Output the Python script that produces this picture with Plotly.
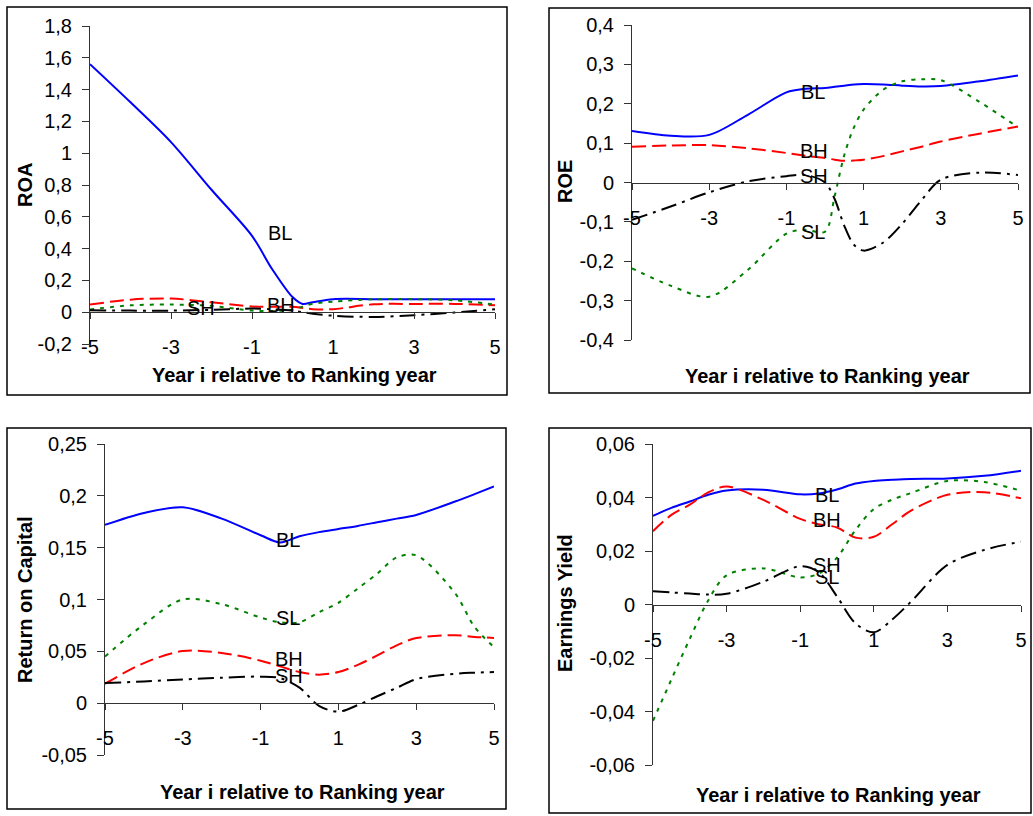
import plotly.graph_objects as go

# ---------------- data ----------------
SERIES = ["BL", "BH", "SL", "SH"]
X_TICKS = [-5, -3, -1, 1, 3, 5]
X_TICK_TEXT = ["-5", "-3", "-1", "1", "3", "5"]

# Panel 1 : ROA
ROA_X = [-5, -4, -3, -2, -1, -0.5, 0, 0.25, 0.5, 1, 2, 3, 4, 5]
ROA_BL = [1.56, 1.32, 1.07, 0.77, 0.48, 0.27, 0.095, 0.052, 0.063, 0.082, 0.082, 0.082, 0.082, 0.082]
ROA_BH = [0.048, 0.079, 0.086, 0.062, 0.036, 0.034, 0.034, 0.027, 0.019, 0.019, 0.05, 0.052, 0.052, 0.044]
ROA_SL = [0.017, 0.043, 0.048, 0.04, 0.01, 0.008, 0.015, 0.035, 0.053, 0.066, 0.081, 0.082, 0.075, 0.048]
ROA_SH = [0.012, 0.01, 0.01, 0.015, 0.023, 0.018, 0.01, 0.0, -0.01, -0.022, -0.03, -0.019, -0.002, 0.019]
ROA_TICKS = [-0.2, 0, 0.2, 0.4, 0.6, 0.8, 1, 1.2, 1.4, 1.6, 1.8]
ROA_TICK_TEXT = ["-0,2", "0", "0,2", "0,4", "0,6", "0,8", "1", "1,2", "1,4", "1,6", "1,8"]
ROA_LABELS = {"BL": (-0.31, 0.50), "BH": (-0.28, 0.044), "SH": (-2.26, 0.028)}

# Panel 2 : ROE
ROE_X = [-5, -4, -3, -2, -1, -0.5, 0, 0.25, 0.5, 0.75, 1, 1.5, 2, 2.5, 3, 4, 5]
ROE_BL = [0.131, 0.119, 0.121, 0.172, 0.229, 0.238, 0.240, 0.243, 0.246, 0.249, 0.250, 0.249, 0.246, 0.244, 0.245, 0.257, 0.272]
ROE_BH = [0.091, 0.094, 0.095, 0.087, 0.075, 0.068, 0.062, 0.058, 0.055, 0.056, 0.058, 0.067, 0.079, 0.091, 0.104, 0.124, 0.142]
ROE_SL = [-0.218, -0.262, -0.29, -0.222, -0.13, -0.12, -0.125, -0.035, 0.07, 0.14, 0.185, 0.235, 0.257, 0.262, 0.26, 0.205, 0.14]
ROE_SH = [-0.095, -0.061, -0.025, 0.003, 0.016, 0.019, 0.0, -0.042, -0.11, -0.158, -0.173, -0.153, -0.105, -0.045, 0.007, 0.025, 0.019]
ROE_TICKS = [-0.4, -0.3, -0.2, -0.1, 0, 0.1, 0.2, 0.3, 0.4]
ROE_TICK_TEXT = ["-0,4", "-0,3", "-0,2", "-0,1", "0", "0,1", "0,2", "0,3", "0,4"]
ROE_LABELS = {"BL": (-0.30, 0.229), "BH": (-0.28, 0.079), "SH": (-0.28, 0.017), "SL": (-0.30, -0.126)}

# Panel 3 : Return on Capital
ROC_X = [-5, -4, -3, -2, -1, -0.5, 0, 0.5, 1, 1.5, 2, 2.5, 3, 4, 4.5, 5]
ROC_BL = [0.172, 0.1835, 0.189, 0.178, 0.162, 0.155, 0.161, 0.165, 0.168, 0.171, 0.1745, 0.178, 0.1816, 0.1945, 0.2016, 0.209]
ROC_SL = [0.045, 0.076, 0.100, 0.0955, 0.0826, 0.078, 0.078, 0.0877, 0.0968, 0.1106, 0.125, 0.1406, 0.1426, 0.106, 0.0735, 0.054]
ROC_BH = [0.0187, 0.0387, 0.0503, 0.0484, 0.041, 0.0355, 0.030, 0.0275, 0.030, 0.037, 0.046, 0.0558, 0.0628, 0.0655, 0.0639, 0.0629]
ROC_SH = [0.0194, 0.021, 0.0229, 0.0245, 0.0256, 0.0242, 0.0150, -0.0025, -0.0082, -0.0018, 0.0067, 0.0148, 0.0232, 0.0284, 0.0294, 0.030]
ROC_TICKS = [-0.05, 0, 0.05, 0.1, 0.15, 0.2, 0.25]
ROC_TICK_TEXT = ["-0,05", "0", "0,05", "0,1", "0,15", "0,2", "0,25"]
ROC_LABELS = {"BL": (-0.30, 0.157), "SL": (-0.30, 0.0826), "BH": (-0.28, 0.0423), "SH": (-0.28, 0.0258)}

# Panel 4 : Earnings Yield
EY_X = [-5, -4.5, -4, -3.5, -3, -2, -1, -0.5, 0, 0.5, 1, 1.5, 2, 3, 4, 5]
EY_BL = [0.0331, 0.0361, 0.0385, 0.0410, 0.0426, 0.0429, 0.0412, 0.0415, 0.0430, 0.0452, 0.0462, 0.0466, 0.0469, 0.0471, 0.0481, 0.050]
EY_BH = [0.0274, 0.0335, 0.0373, 0.0419, 0.0441, 0.0391, 0.0320, 0.0300, 0.0288, 0.0250, 0.0253, 0.0300, 0.0350, 0.0410, 0.0420, 0.0397]
EY_SL = [-0.0435, -0.028, -0.0128, 0.0015, 0.0109, 0.0135, 0.0101, 0.0115, 0.0175, 0.0278, 0.0357, 0.0392, 0.0416, 0.0462, 0.0458, 0.0425]
EY_SH = [0.005, 0.0045, 0.0041, 0.0037, 0.004, 0.0085, 0.0143, 0.0121, 0.003, -0.007, -0.0104, -0.0056, 0.0009, 0.0148, 0.0204, 0.0235]
EY_TICKS = [-0.06, -0.04, -0.02, 0, 0.02, 0.04, 0.06]
EY_TICK_TEXT = ["-0,06", "-0,04", "-0,02", "0", "0,02", "0,04", "0,06"]
EY_LABELS = {"BL": (-0.28, 0.0409), "BH": (-0.27, 0.0315), "SH": (-0.27, 0.0148), "SL": (-0.28, 0.0102)}

X_TITLE = "Year i relative to Ranking year"

# ---------------- styling ----------------
W, H = 1033, 816
FONT = "Liberation Sans, Arial, sans-serif"
STYLE = {
    "BL": dict(color="#0000FF", dash="solid"),
    "BH": dict(color="#FF0000", dash="14px,6px"),
    "SL": dict(color="#008000", dash="4px,6px"),
    "SH": dict(color="#000000", dash="16px,6px,3px,6px"),
}

def px_dom_x(a, b):
    return [a / W, b / W]

def px_dom_y(top, bottom):
    return [(H - bottom) / H, (H - top) / H]

panels = [
    dict(x=ROA_X, ys={"BL": ROA_BL, "BH": ROA_BH, "SL": ROA_SL, "SH": ROA_SH},
         yr=[-0.2, 1.8], ticks=ROA_TICKS, ticktext=ROA_TICK_TEXT, labels=ROA_LABELS,
         xd=px_dom_x(90, 495), yd=px_dom_y(26, 344), ytitle="ROA",
         ytpos=(25, 185), xtpos=(294, 375), box=(7, 7, 507, 395)),
    dict(x=ROE_X, ys={"BL": ROE_BL, "BH": ROE_BH, "SL": ROE_SL, "SH": ROE_SH},
         yr=[-0.4, 0.4], ticks=ROE_TICKS, ticktext=ROE_TICK_TEXT, labels=ROE_LABELS,
         xd=px_dom_x(632, 1018), yd=px_dom_y(25, 340), ytitle="ROE",
         ytpos=(565, 182), xtpos=(827, 376), box=(549, 8, 1030, 393)),
    dict(x=ROC_X, ys={"BL": ROC_BL, "BH": ROC_BH, "SL": ROC_SL, "SH": ROC_SH},
         yr=[-0.05, 0.25], ticks=ROC_TICKS, ticktext=ROC_TICK_TEXT, labels=ROC_LABELS,
         xd=px_dom_x(105, 494), yd=px_dom_y(444, 755), ytitle="Return on Capital",
         ytpos=(25, 600), xtpos=(302, 792), box=(7, 428, 506, 809)),
    dict(x=EY_X, ys={"BL": EY_BL, "BH": EY_BH, "SL": EY_SL, "SH": EY_SH},
         yr=[-0.06, 0.06], ticks=EY_TICKS, ticktext=EY_TICK_TEXT, labels=EY_LABELS,
         xd=px_dom_x(653, 1021), yd=px_dom_y(444, 765), ytitle="Earnings Yield",
         ytpos=(565, 603), xtpos=(838, 795), box=(549, 428, 1031, 813)),
]

fig = go.Figure()
annotations = []
shapes = []
layout = {}

for i, p in enumerate(panels, start=1):
    sfx = "" if i == 1 else str(i)
    xa, ya = "x" + sfx, "y" + sfx
    for s in SERIES:
        fig.add_trace(go.Scatter(
            x=p["x"], y=p["ys"][s], mode="lines", name=s, showlegend=False,
            line=dict(color=STYLE[s]["color"], dash=STYLE[s]["dash"], width=2,
                      shape="spline", smoothing=0.9),
            xaxis=xa, yaxis=ya, hoverinfo="skip"))
    y0, y1 = p["yr"]
    d0, d1 = p["yd"]
    zero_pos = d0 + (0 - y0) / (y1 - y0) * (d1 - d0)
    layout["xaxis" + sfx] = dict(
        domain=p["xd"], range=[-5, 5], anchor="free", position=zero_pos,
        tickvals=X_TICKS, ticktext=X_TICK_TEXT, ticks="outside", ticklen=6,
        tickcolor="#333", showline=True, linecolor="#333", linewidth=1,
        showgrid=False, zeroline=False, ticklabelstandoff=11, automargin=False,
        tickfont=dict(family=FONT, size=20, color="black"))
    layout["yaxis" + sfx] = dict(
        domain=p["yd"], range=p["yr"], anchor=xa,
        tickvals=p["ticks"], ticktext=p["ticktext"], ticks="outside", ticklen=7,
        tickcolor="#333", showline=True, linecolor="#333", linewidth=1,
        showgrid=False, zeroline=False, ticklabelstandoff=6, automargin=False,
        tickfont=dict(family=FONT, size=20, color="black"))
    for s, (lx, ly) in p["labels"].items():
        annotations.append(dict(x=lx, y=ly, xref=xa, yref=ya, text=s, showarrow=False,
                                font=dict(family=FONT, size=20, color="black"),
                                xanchor="center", yanchor="middle"))
    annotations.append(dict(x=p["ytpos"][0] / W, y=(H - p["ytpos"][1]) / H, xref="paper", yref="paper",
                            text="<b>" + p["ytitle"] + "</b>", showarrow=False, textangle=-90,
                            font=dict(family=FONT, size=20, color="black"),
                            xanchor="center", yanchor="middle"))
    annotations.append(dict(x=p["xtpos"][0] / W, y=(H - p["xtpos"][1]) / H, xref="paper", yref="paper",
                            text="<b>" + X_TITLE + "</b>", showarrow=False,
                            font=dict(family=FONT, size=20, color="black"),
                            xanchor="center", yanchor="middle"))
    bx0, by0, bx1, by1 = p["box"]
    shapes.append(dict(type="rect", xref="paper", yref="paper",
                       x0=bx0 / W, x1=bx1 / W, y0=(H - by1) / H, y1=(H - by0) / H,
                       line=dict(color="black", width=1.5), fillcolor="rgba(0,0,0,0)"))

fig.update_layout(
    template="none",
    width=W, height=H, margin=dict(l=0, r=0, t=0, b=0, pad=0, autoexpand=False),
    paper_bgcolor="white", plot_bgcolor="white", separators=", ",
    font=dict(family=FONT, color="black"),
    annotations=annotations, shapes=shapes, **layout)

fig.write_html("out.html", config={"displayModeBar": False},
               post_script="document.body.style.margin='0';document.body.style.overflow='hidden';")
